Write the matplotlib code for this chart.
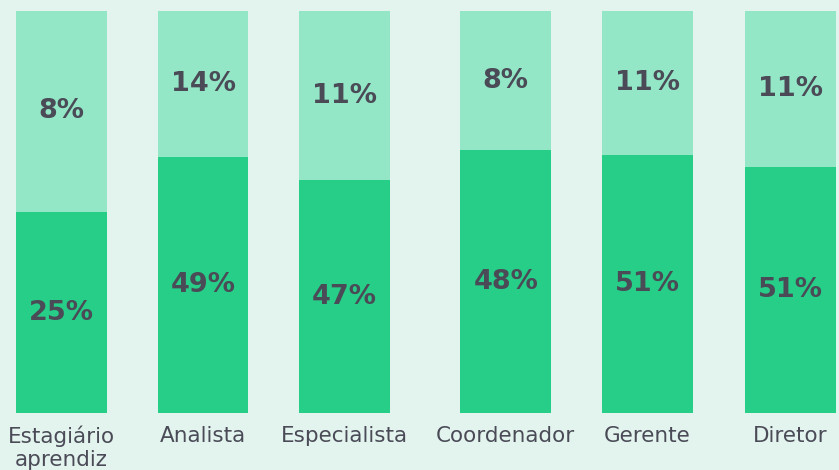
import numpy as np
import matplotlib.pyplot as plt

# categorias e valores
categorias = ["Estagiário\naprendiz", "Analista", "Especialista", "Coordenador", "Gerente", "Diretor"]
valor_escuro = [25, 49, 47, 48, 51, 51]   # rótulo do segmento inferior (%)
valor_claro = [8, 14, 11, 8, 11, 11]      # rótulo do segmento superior (%)
# parcela da altura da barra ocupada pelo segmento inferior
altura_escuro = [50.0, 63.6, 57.9, 65.3, 64.3, 61.1]

cor_escuro = "#27ce88"
cor_claro = "#93e7c6"
cor_fundo = "#e3f4ee"
cor_texto = "#4a4b57"

W, H = 839, 470
fig = plt.figure(figsize=(W / 100, H / 100), dpi=100, facecolor=cor_fundo)
ax = fig.add_axes([0, (H - 413) / H, 1, (413 - 11) / H])
ax.set_facecolor(cor_fundo)

x = np.array([0, 1, 2, 3.14, 4.14, 5.15])
largura = 0.643
esc = np.array(altura_escuro)
cla = 100 - esc

ax.bar(x, esc, width=largura, color=cor_escuro)
ax.bar(x, cla, bottom=esc, width=largura, color=cor_claro)

for xi, e, c, ve, vc in zip(x, esc, cla, valor_escuro, valor_claro):
    ax.text(xi, e / 2, f"{ve}%", ha="center", va="center", fontsize=19.5,
            fontweight="bold", color=cor_texto)
    ax.text(xi, e + c / 2, f"{vc}%", ha="center", va="center", fontsize=19.5,
            fontweight="bold", color=cor_texto)

ax.set_xlim((0 - 61.5) / 141.5, (W - 61.5) / 141.5)
ax.set_ylim(0, 100)
ax.set_xticks(x)
ax.set_xticklabels(categorias, fontsize=15.5, color=cor_texto, linespacing=1.2)
ax.tick_params(axis="x", length=0, pad=9)
ax.set_yticks([])
for s in ax.spines.values():
    s.set_visible(False)

fig.savefig("out.png", dpi=100, facecolor=cor_fundo)
